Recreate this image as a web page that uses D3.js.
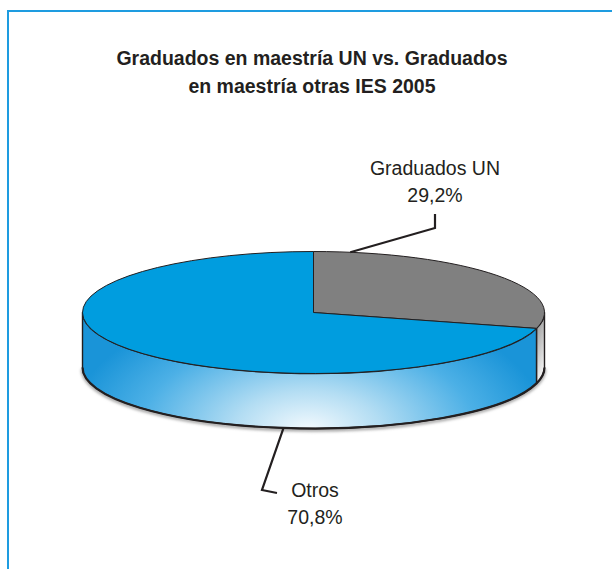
<!DOCTYPE html>
<html>
<head>
<meta charset="utf-8">
<script src="https://cdn.jsdelivr.net/npm/d3@7"></script>
<style>
  body { margin: 0; background: #fff; }
  text { font-family: "Liberation Sans", Arial, sans-serif; fill: #231f20; }
</style>
</head>
<body>
<script>
// data
var categories = ["Graduados UN", "Otros"];
var values = [29.2, 70.8];
var valueLabels = ["29,2%", "70,8%"];
var colors = ["#808080", "#009ddf"];
var titleLines = ["Graduados en maestría UN vs. Graduados", "en maestría otras IES 2005"];

var width = 612, height = 569;

// 3d pie geometry
var cx = 313.5, cy = 312.5, rx = 231, ry = 61, depth = 55;

var svg = d3.select("body").append("svg")
    .attr("width", width)
    .attr("height", height);

var defs = svg.append("defs");

// blue side: whitish glow at the front bottom
var rg = defs.append("radialGradient")
    .attr("id", "sideBlue")
    .attr("gradientUnits", "userSpaceOnUse")
    .attr("cx", 308).attr("cy", 430).attr("r", 240)
    .attr("gradientTransform", "translate(308,430) scale(1,0.55) translate(-308,-430)");
rg.append("stop").attr("offset", 0).attr("stop-color", "#f4fafe");
rg.append("stop").attr("offset", 0.3).attr("stop-color", "#b3ddf3");
rg.append("stop").attr("offset", 0.7).attr("stop-color", "#4cb0e6");
rg.append("stop").attr("offset", 1).attr("stop-color", "#1a94d8");

var lg = defs.append("linearGradient")
    .attr("id", "sideGray")
    .attr("x1", 0).attr("y1", 0).attr("x2", 0.3).attr("y2", 1);
lg.append("stop").attr("offset", 0).attr("stop-color", "#8e8e8e");
lg.append("stop").attr("offset", 1).attr("stop-color", "#f4f4f4");

var sideFills = ["url(#sideGray)", "url(#sideBlue)"];

defs.append("filter").attr("id", "soft")
  .append("feGaussianBlur").attr("stdDeviation", 1.5);

// frame
svg.append("rect")
    .attr("x", 8).attr("y", 11)
    .attr("width", 800).attr("height", 800)
    .attr("fill", "none")
    .attr("stroke", "#1e9ce0")
    .attr("stroke-width", 2);

// title
svg.append("g").selectAll("text")
    .data(titleLines)
    .enter().append("text")
    .attr("x", 312)
    .attr("y", function(d, i) { return 64.5 + i * 28; })
    .attr("text-anchor", "middle")
    .style("font-weight", "bold")
    .style("font-size", "19.5px")
    .text(function(d) { return d; });

var pie = d3.pie().sort(null).value(function(d) { return d; });
var arcs = pie(values);

function pt(a, dy) {
  return [cx + rx * Math.sin(a), cy - ry * Math.cos(a) + (dy || 0)];
}

function topPath(d) {
  var p0 = pt(d.startAngle), p1 = pt(d.endAngle);
  var large = (d.endAngle - d.startAngle) > Math.PI ? 1 : 0;
  return "M" + cx + "," + cy + "L" + p0 + "A" + rx + "," + ry + " 0 " + large + " 1 " + p1 + "Z";
}

function sidePath(d) {
  var s = Math.max(d.startAngle, Math.PI / 2);
  var e = Math.min(d.endAngle, 3 * Math.PI / 2);
  if (e <= s) return null;
  var a = pt(s), b = pt(e), c = pt(e, depth), f = pt(s, depth);
  return "M" + a + "A" + rx + "," + ry + " 0 0 1 " + b + "L" + c +
         "A" + rx + "," + ry + " 0 0 0 " + f + "Z";
}

function bottomPath(d) {
  var s = Math.max(d.startAngle, Math.PI / 2);
  var e = Math.min(d.endAngle, 3 * Math.PI / 2);
  if (e <= s) return null;
  return "M" + pt(s, depth) + "A" + rx + "," + ry + " 0 0 1 " + pt(e, depth);
}

var chart = svg.append("g");

// shadow under the bottom rim
chart.append("path")
    .attr("d", "M" + pt(Math.PI / 2, depth + 1.5) + "A" + rx + "," + ry + " 0 0 1 " + pt(3 * Math.PI / 2, depth + 1.5))
    .attr("fill", "none")
    .attr("stroke", "#999")
    .attr("stroke-width", 3)
    .attr("filter", "url(#soft)");

// sides
chart.selectAll(".side")
    .data(arcs)
    .enter().append("path")
    .attr("class", "side")
    .attr("d", sidePath)
    .attr("fill", function(d, i) { return sideFills[i]; })
    .attr("stroke", "#231f20")
    .attr("stroke-width", 1.4)
    .attr("stroke-linejoin", "round");

chart.selectAll(".bottom")
    .data(arcs)
    .enter().append("path")
    .attr("class", "bottom")
    .attr("d", bottomPath)
    .attr("fill", "none")
    .attr("stroke", "#231f20")
    .attr("stroke-width", 2.2);

// tops
chart.selectAll(".top")
    .data(arcs)
    .enter().append("path")
    .attr("class", "top")
    .attr("d", topPath)
    .attr("fill", function(d, i) { return colors[i]; })
    .attr("stroke", "#231f20")
    .attr("stroke-width", 1)
    .attr("stroke-linejoin", "round");

// leader lines and labels
var anchorAngle = [0.16, Math.PI + 0.13];
var anchorDy = [0, depth];
var leaders = [
  [[435, 228], [435, 214]],
  [[262, 490], [277, 493]]
];
var labelPos = [[435, 175], [315, 497]];

arcs.forEach(function(d, i) {
  var start = pt(anchorAngle[i], anchorDy[i]);
  var pts = [start].concat(leaders[i]);
  svg.append("path")
      .attr("d", d3.line()(pts))
      .attr("fill", "none")
      .attr("stroke", "#231f20")
      .attr("stroke-width", 2.2);

  var t = svg.append("text")
      .attr("x", labelPos[i][0])
      .attr("y", labelPos[i][1])
      .attr("text-anchor", "middle")
      .style("font-size", "19.5px");
  t.append("tspan").attr("x", labelPos[i][0]).text(categories[i]);
  t.append("tspan").attr("x", labelPos[i][0]).attr("dy", 27).text(valueLabels[i]);
});
</script>
</body>
</html>
